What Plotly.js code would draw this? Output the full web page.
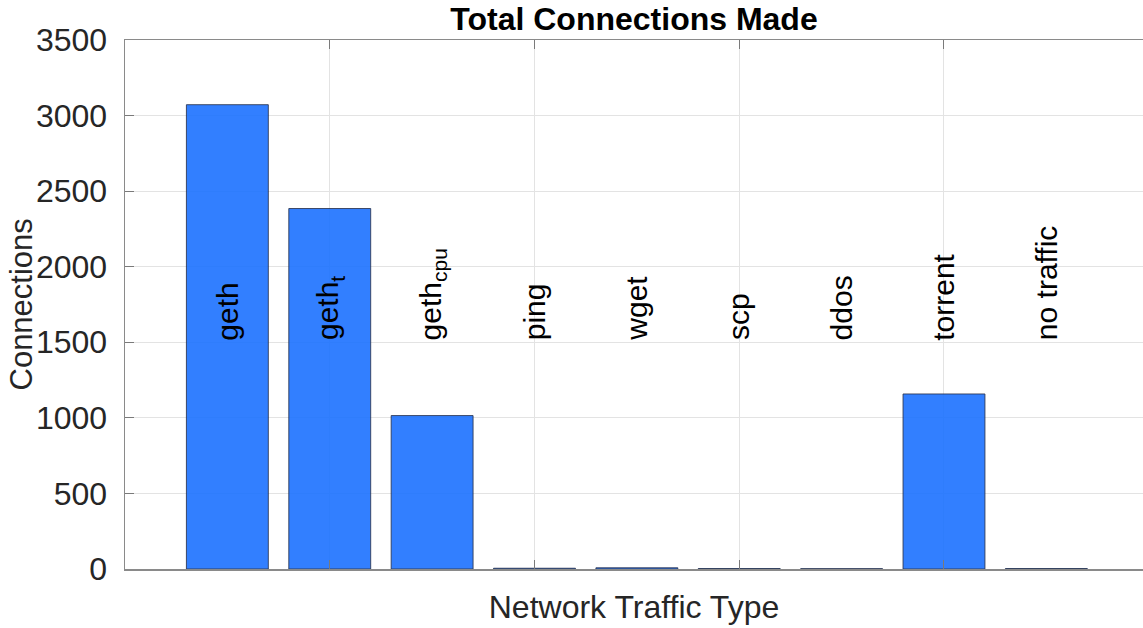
<!DOCTYPE html>
<html>
<head>
<meta charset="utf-8">
<script src="https://cdn.plot.ly/plotly-3.0.1.min.js"></script>
<style>html,body{margin:0;padding:0;background:#fff;}#chart{width:1143px;height:628px;}</style>
</head>
<body>
<div id="chart"></div>
<script>
const categories = ['geth', 'geth<sub>t</sub>', 'geth<sub>cpu</sub>', 'ping', 'wget', 'scp', 'ddos', 'torrent', 'no traffic'];
const connections = [3072, 2385, 1015, 5, 8, 3, 2, 1158, 3];
const yTicks = [0, 500, 1000, 1500, 2000, 2500, 3000, 3500];
const xGridCategories = [categories[1], categories[3], categories[5], categories[7]];
const labelY = 1500;

const font = '"Liberation Sans", Arial, Helvetica, sans-serif';

const trace = {
  type: 'bar',
  x: categories,
  y: connections,
  width: 0.8,
  marker: {
    color: 'rgb(28,114,255)',
    opacity: 0.9,
    line: {color: 'rgba(20,30,60,0.85)', width: 1}
  },
  hoverinfo: 'x+y'
};

const annotations = categories.map(c => ({
  x: c, y: labelY, xref: 'x', yref: 'y',
  text: c, showarrow: false, textangle: -90,
  xanchor: 'center', yanchor: 'bottom',
  font: {family: font, size: 30, color: '#000'}
}));

// y-axis title drawn as rotated text beside the tick labels
annotations.push({
  text: 'Connections', xref: 'paper', yref: 'paper',
  x: (21 - 125) / 1018, y: 0.5, xanchor: 'center', yanchor: 'middle',
  textangle: -90, showarrow: false,
  font: {family: font, size: 31, color: '#262626'}
});

const layout = {
  width: 1143, height: 628,
  margin: {l: 125, r: 0, t: 40, b: 59},
  paper_bgcolor: '#fff', plot_bgcolor: '#fff',
  showlegend: false,
  title: {
    text: '<b>Total Connections Made</b>',
    font: {family: font, size: 32, color: '#000'},
    xref: 'paper', x: 0.5, xanchor: 'center',
    yref: 'container', y: 1 - 19/628, yanchor: 'middle'
  },
  xaxis: {
    type: 'category',
    range: [-1, 8.944],
    tickvals: xGridCategories,
    showticklabels: false,
    ticks: 'inside', ticklen: 9, tickcolor: '#7a7a7a', tickwidth: 1,
    showgrid: true, gridcolor: '#e3e3e3', gridwidth: 1,
    showline: true, linecolor: '#8a8a8a', linewidth: 1.5, mirror: 'allticks',
    zeroline: false, fixedrange: true,
    title: {text: 'Network Traffic Type', font: {family: font, size: 32, color: '#262626'}, standoff: 26}
  },
  yaxis: {
    range: [0, 3500],
    tickvals: yTicks,
    ticktext: yTicks.map(String),
    ticks: 'inside', ticklen: 9, tickcolor: '#7a7a7a', tickwidth: 1,
    tickfont: {family: font, size: 32, color: '#262626'},
    ticklabelstandoff: 10,
    showgrid: true, gridcolor: '#e3e3e3', gridwidth: 1,
    showline: true, linecolor: '#8a8a8a', linewidth: 1.5, mirror: false,
    zeroline: false, fixedrange: true
  },
  annotations: annotations
};

Plotly.newPlot('chart', [trace], layout, {displayModeBar: false, staticPlot: true});
</script>
</body>
</html>
